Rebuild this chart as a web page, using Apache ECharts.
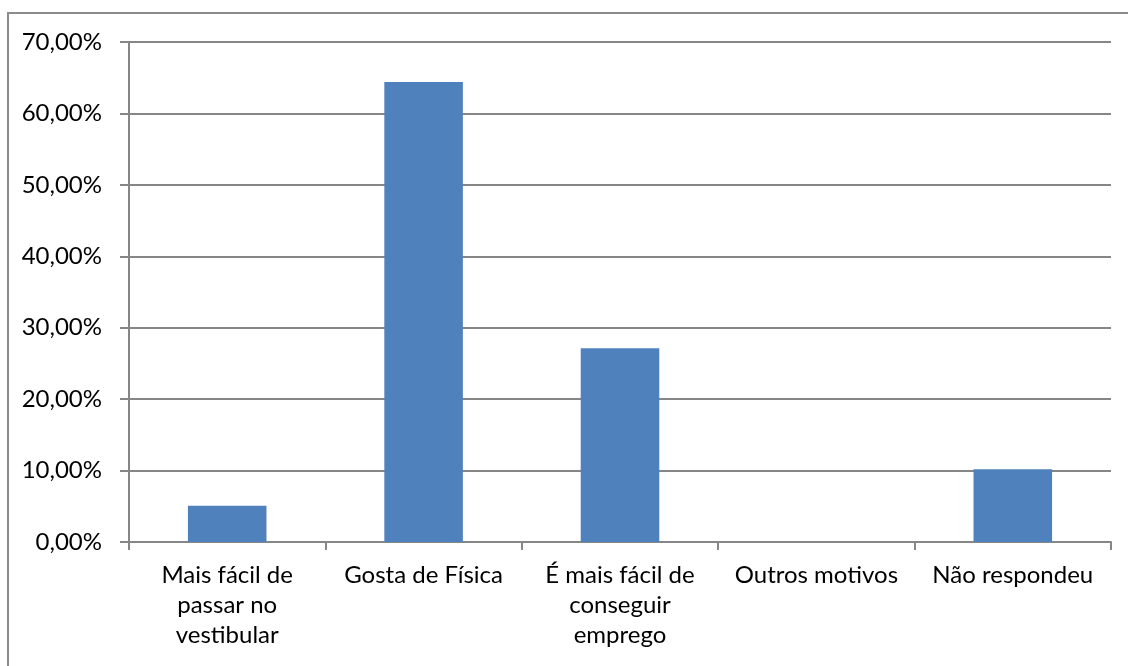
<!DOCTYPE html>
<html><head><meta charset="utf-8">
<script src="https://cdn.jsdelivr.net/npm/echarts@6/dist/echarts.min.js"></script>
<style>
html,body{margin:0;padding:0;background:#fff;overflow:hidden;}
#frame{position:absolute;left:7px;top:12px;width:1140px;height:680px;border:2px solid #8c8c8c;box-sizing:border-box;}
#c{position:absolute;left:0;top:0;width:1128px;height:666px;}
</style></head>
<body>
<div id="frame"></div>
<div id="c"></div>
<script>
const categories = ["Mais fácil de\npassar no\nvestibular", "Gosta de Física", "É mais fácil de\nconseguir\nemprego", "Outros motivos", "Não respondeu"];
const values = [5.08, 64.41, 27.12, 0, 10.17];
const yTicks = [0, 10, 20, 30, 40, 50, 60, 70];

const chart = echarts.init(document.getElementById('c'));
const font = 'Lato, "Liberation Sans", sans-serif';
chart.setOption({
  animation: false,
  grid: {left: 129, right: 17, top: 42, bottom: 124, containLabel: false},
  xAxis: {
    type: 'category', data: categories,
    axisLine: {lineStyle: {color: '#868686', width: 2}},
    axisTick: {show: true, length: 8, alignWithLabel: false, lineStyle: {color: '#868686', width: 2}},
    axisLabel: {color: '#000', fontSize: 24, fontFamily: font, lineHeight: 30, margin: 18, interval: 0}
  },
  yAxis: {
    type: 'value', min: yTicks[0], max: yTicks[yTicks.length-1], interval: 10,
    axisLine: {show: true, lineStyle: {color: '#868686', width: 2}},
    axisTick: {show: true, length: 9, lineStyle: {color: '#868686', width: 2}},
    splitLine: {lineStyle: {color: '#868686', width: 2}},
    axisLabel: {color: '#000', fontSize: 24, fontFamily: font, margin: 27,
      formatter: v => v.toFixed(2).replace('.', ',') + '%'}
  },
  series: [{
    type: 'bar', data: values, barWidth: '40%',
    itemStyle: {color: '#4f81bd'}
  }]
});
</script>
</body></html>
